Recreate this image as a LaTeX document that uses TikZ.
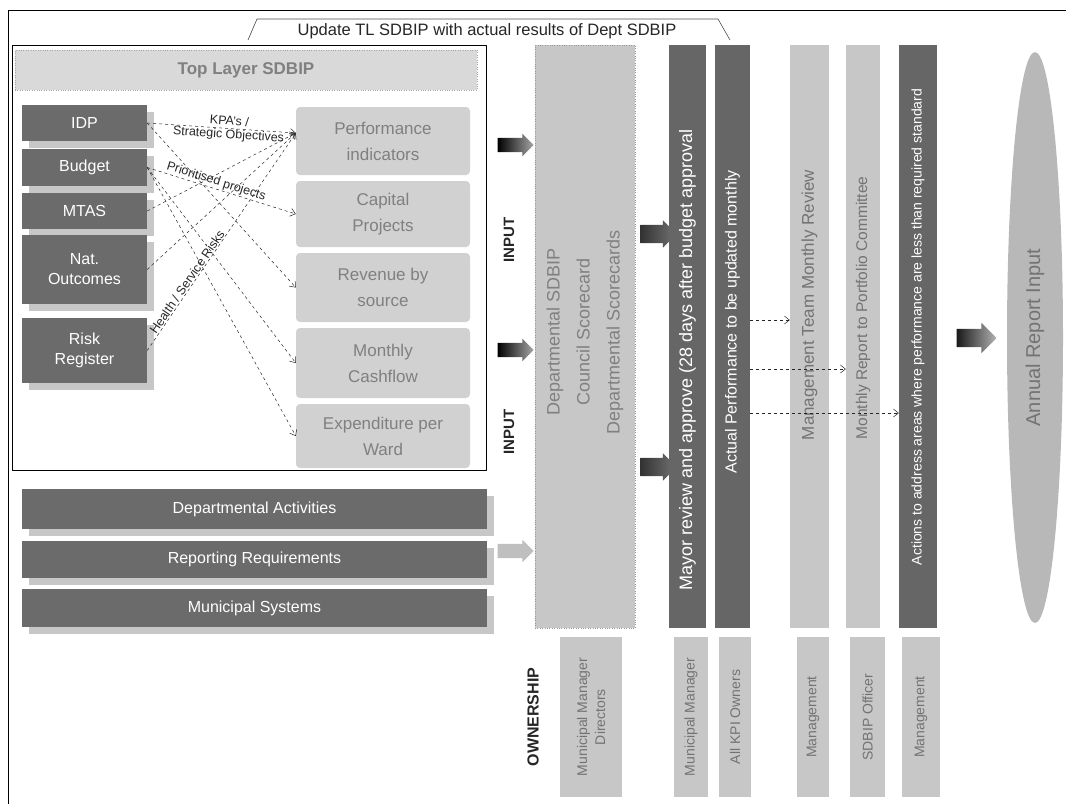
\documentclass[tikz,border=0pt]{standalone}
\usepackage{fontspec}
\setmainfont{Liberation Sans}
\usepackage{tikz}
\usetikzlibrary{arrows.meta,positioning,shapes.arrows,shapes.geometric,shadows}

\newcommand{\pxfont}[2]{\fontsize{#1}{#2}\selectfont}

\begin{document}
\begin{tikzpicture}[x=1pt, y=-1pt, line join=round, >=Latex,
  darkbox/.style={fill=black!58, text=white, inner sep=0pt, align=center, minimum width=125pt,
    font=\pxfont{16}{20}, drop shadow={fill=black!22, opacity=1, shadow xshift=7pt, shadow yshift=-7pt}},
  lightbox/.style={fill=black!18, text=black!50, inner sep=0pt, align=center, minimum width=174pt,
    rounded corners=4pt, font=\pxfont{17}{26}},
  header/.style={fill=black!15, draw=black!35, dotted, text=black!50, inner sep=0pt,
    font=\bfseries\pxfont{17}{20}},
  lbl/.style={font=\pxfont{12.5}{13}, text=black!85, inner sep=1pt, align=center},
  dasharrow/.style={dashed, line width=0.5pt, black!85, -{Straight Barb[length=5pt,width=8pt]}},
  blockarrow/.style={single arrow, single arrow head extend=4pt, inner xsep=0pt, inner ysep=7pt,
    minimum height=36pt},
  inputlbl/.style={rotate=90, font=\bfseries\pxfont{15}{18}, text=black!85},
  darkcol/.style={fill=black!60, inner sep=0pt, minimum height=583pt},
  lightcol/.style={fill=black!22, inner sep=0pt, minimum height=583pt},
  coltext/.style={rotate=90, align=center, inner sep=0pt},
  ownbox/.style={rotate=90, fill=black!22, text=black!55, inner sep=0pt, align=center,
    minimum width=160pt, font=\pxfont{14}{18}}]
\useasboundingbox (0,0) rectangle (1066,804);
% outer frame and tab
\draw[line width=1pt] (8,804) -- (8,10) -- (1066,10);
\draw[black!70, line width=0.6pt] (248,40) -- (257,19) -- (718,19) -- (730,40);
\node[font=\pxfont{16.5}{20}, text=black!85] (tabtxt) at (487,31) {Update TL SDBIP with actual results of Dept SDBIP};
% top layer SDBIP
\draw[line width=0.8pt] (12,45) rectangle (486,470);
\node[header, minimum width=462pt, minimum height=40pt] (tl) at (246,70) {Top Layer SDBIP};
\foreach \n/\y/\h/\t in {idp/123/36/IDP, budget/167.5/37/Budget, mtas/211/36/MTAS,
    nat/269.5/69/{Nat.\\Outcomes}, risk/350.5/65/{Risk\\Register}}
  \node[darkbox, minimum height=\h*1pt] (\n) at (84.5,\y) {\t};
\foreach \n/\y/\h/\t in {perf/141/68/{Performance\\indicators}, capital/214/66/{Capital\\Projects},
    revenue/287.5/69/{Revenue by\\source}, cashflow/363/70/{Monthly\\Cashflow},
    expend/436/64/{Expenditure per\\Ward}}
  \node[lightbox, minimum height=\h*1pt] (\n) at (383,\y) {\t};
% links
\draw[dasharrow] (idp.east) -- ([yshift=8pt]perf.west) node[lbl, pos=0.55, sloped] (kpa) {KPA's /\\Strategic Objectives};
\draw[dasharrow] (budget.east) -- (capital.west) node[lbl, pos=0.45, sloped, above] (prio) {Prioritised projects};
\draw[dasharrow] (idp.east) -- (revenue.west);
\draw[dasharrow] (budget.east) -- (cashflow.west);
\draw[dasharrow] (budget.east) -- (expend.west);
\draw[dasharrow] (mtas.east) -- ([yshift=8pt]perf.west);
\draw[dasharrow] (nat.east) -- ([yshift=8pt]perf.west);
\draw[dasharrow] (risk.east) -- ([yshift=8pt]perf.west) node[lbl, pos=0.3, sloped, above] (risks) {Health / Service Risks};
% bottom inputs
\foreach \n/\y/\h/\t in {actv/509/40/Departmental Activities, reqs/559.5/37/Reporting Requirements,
    systems/608/38/Municipal Systems}
  \node[darkbox, minimum width=465pt, minimum height=\h*1pt] (\n) at (254.5,\y) {\t};
% input arrows
\node[blockarrow, left color=black, right color=black!35] (in1) at (512,145) {};
\node[inputlbl] (input1) at (509,240) {INPUT};
\node[blockarrow, left color=black, right color=black!35] (in2) at (512,350) {};
\node[inputlbl] (input2) at (509,432) {INPUT};
\node[blockarrow, fill=black!25] (in3) at (512,551) {};
% departmental SDBIP
\node[lightcol, minimum width=100pt, draw=black!40, dotted] (dept) at (585,336.5) {};
\node[coltext, text=black!50, font=\pxfont{18}{30}] (depttxt) at (585,332) {Departmental SDBIP\\Council Scorecard\\Departmental Scorecards};
\node[blockarrow, inner ysep=9pt, single arrow head extend=4.5pt, left color=black!80, right color=black!55] (tomayor1) at (654,234) {};
\node[blockarrow, inner ysep=9pt, single arrow head extend=4.5pt, left color=black!80, right color=black!55] (tomayor2) at (654,467) {};
% review columns
\node[darkcol, minimum width=37pt] (mayor) at (687.5,336.5) {};
\node[darkcol, minimum width=35pt] (actual) at (732.5,336.5) {};
\node[lightcol, minimum width=39pt] (mgmt) at (809.5,336.5) {};
\node[lightcol, minimum width=34pt] (monthly) at (863,336.5) {};
\node[darkcol, minimum width=38pt] (actions) at (918,336.5) {};
\node[coltext, text=white, font=\pxfont{18}{21}] (mayortxt) at (687.5,360) {Mayor review and approve (28 days after budget approval};
\node[coltext, text=white, font=\pxfont{16}{19}] (actualtxt) at (732.5,322) {Actual Performance to be updated monthly};
\node[coltext, text=black!55, font=\pxfont{17}{20}] (mgmttxt) at (809.5,305) {Management Team Monthly Review};
\node[coltext, text=black!55, font=\pxfont{15.5}{19}] (monthlytxt) at (863,308) {Monthly Report to Portfolio Committee};
\node[coltext, text=white, font=\pxfont{14}{17}] (actionstxt) at (918,327) {Actions to address areas where performance are less than required standard};
\draw[dasharrow] ([yshift=16.5pt]actual.east) -- ([yshift=16.5pt]mgmt.west);
\draw[dasharrow] ([yshift=-32.5pt]actual.east) -- ([yshift=-32.5pt]monthly.west);
\draw[dasharrow] ([yshift=-76.5pt]actual.east) -- ([yshift=-76.5pt]actions.west);
% annual report
\node[blockarrow, minimum height=40pt, inner ysep=9pt, single arrow head extend=6pt, left color=black!90, right color=black!30] (toannual) at (972,338) {};
\node[ellipse, rotate=90, fill=black!28, minimum width=571pt, minimum height=56pt, inner sep=0pt,
  text=black!55, font=\pxfont{20}{24}] (annual) at (1035,337.5) {Annual Report Input};
% ownership
\node[inputlbl, font=\bfseries\pxfont{16}{19}] (owner) at (533,717) {OWNERSHIP};
\foreach \n/\x/\w/\t in {own1/591/62/{Municipal Manager\\Directors}, own2/691/34/Municipal Manager,
    own3/735/32/All KPI Owners, own4/813/32/Management, own5/867.5/35/SDBIP Officer,
    own6/921/38/Management}
  \node[ownbox, minimum height=\w*1pt] (\n) at (\x,717) {\t};
\end{tikzpicture}
\end{document}
